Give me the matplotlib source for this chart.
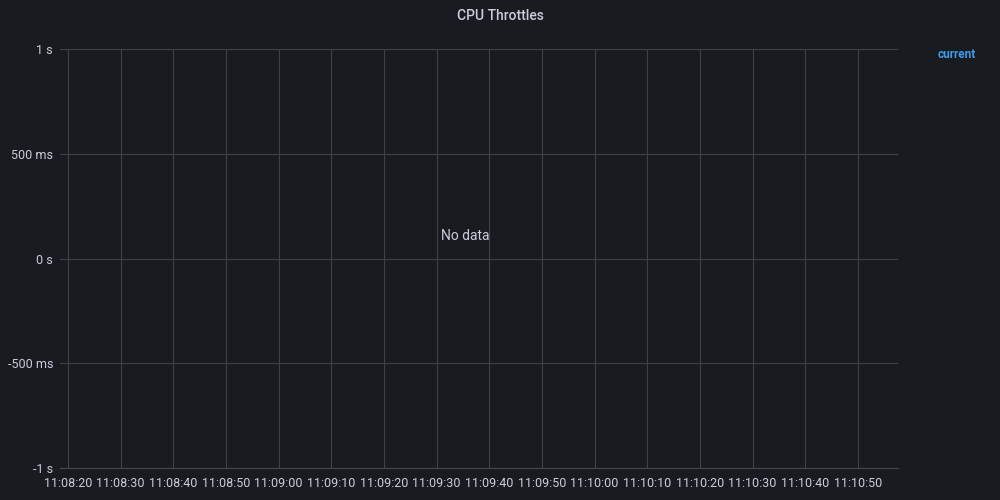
import matplotlib
matplotlib.use("Agg")
import matplotlib.pyplot as plt

plt.rcParams['font.family'] = ['Roboto', 'DejaVu Sans']

# time axis (seconds after 11:08:20) and labels
x_ticks = [0, 10, 20, 30, 40, 50, 60, 70, 80, 90, 100, 110, 120, 130, 140, 150]
x_labels = ["11:08:20", "11:08:30", "11:08:40", "11:08:50", "11:09:00", "11:09:10",
            "11:09:20", "11:09:30", "11:09:40", "11:09:50", "11:10:00", "11:10:10",
            "11:10:20", "11:10:30", "11:10:40", "11:10:50"]
y_ticks = [-1, -0.5, 0, 0.5, 1]
y_labels = ["-1 s", "-500 ms", "0 s", "500 ms", "1 s"]
series_name = "current"
series_values = []  # no data

bg = "#181b1f"
grid = "#3e4146"
txt = "#ccccdc"

fig = plt.figure(figsize=(10, 5), dpi=100, facecolor=bg)
ax = fig.add_axes([0.06, 0.064, 0.838, 0.838], facecolor=bg)

ax.plot(x_ticks[:len(series_values)], series_values, color="#3d9be9")

ax.set_xlim(-1.52, 157.6)
ax.set_ylim(-1, 1)
ax.set_xticks(x_ticks)
ax.set_xticklabels(x_labels)
ax.set_yticks(y_ticks)
ax.set_yticklabels(y_labels)
ax.grid(True, color=grid, linewidth=0.8)
ax.set_axisbelow(True)
for s in ax.spines.values():
    s.set_visible(False)
ax.tick_params(length=0, colors=txt, labelsize=9)
ax.tick_params(axis='x', pad=6.5)
ax.tick_params(axis='y', pad=5)
ax.axhline(-1, color="#46494e", linewidth=0.8, clip_on=False)

fig.text(0.5, 0.968, "CPU Throttles", ha="center", va="center", color=txt,
         fontsize=10, fontweight="medium")
fig.text(0.465, 0.527, "No data", ha="center", va="center", color=txt, fontsize=10)
fig.text(0.938, 0.89, series_name, ha="left", va="center", color="#3d9be9",
         fontsize=8.5, fontweight="bold")

fig.savefig("out.png", dpi=100, facecolor=bg)
